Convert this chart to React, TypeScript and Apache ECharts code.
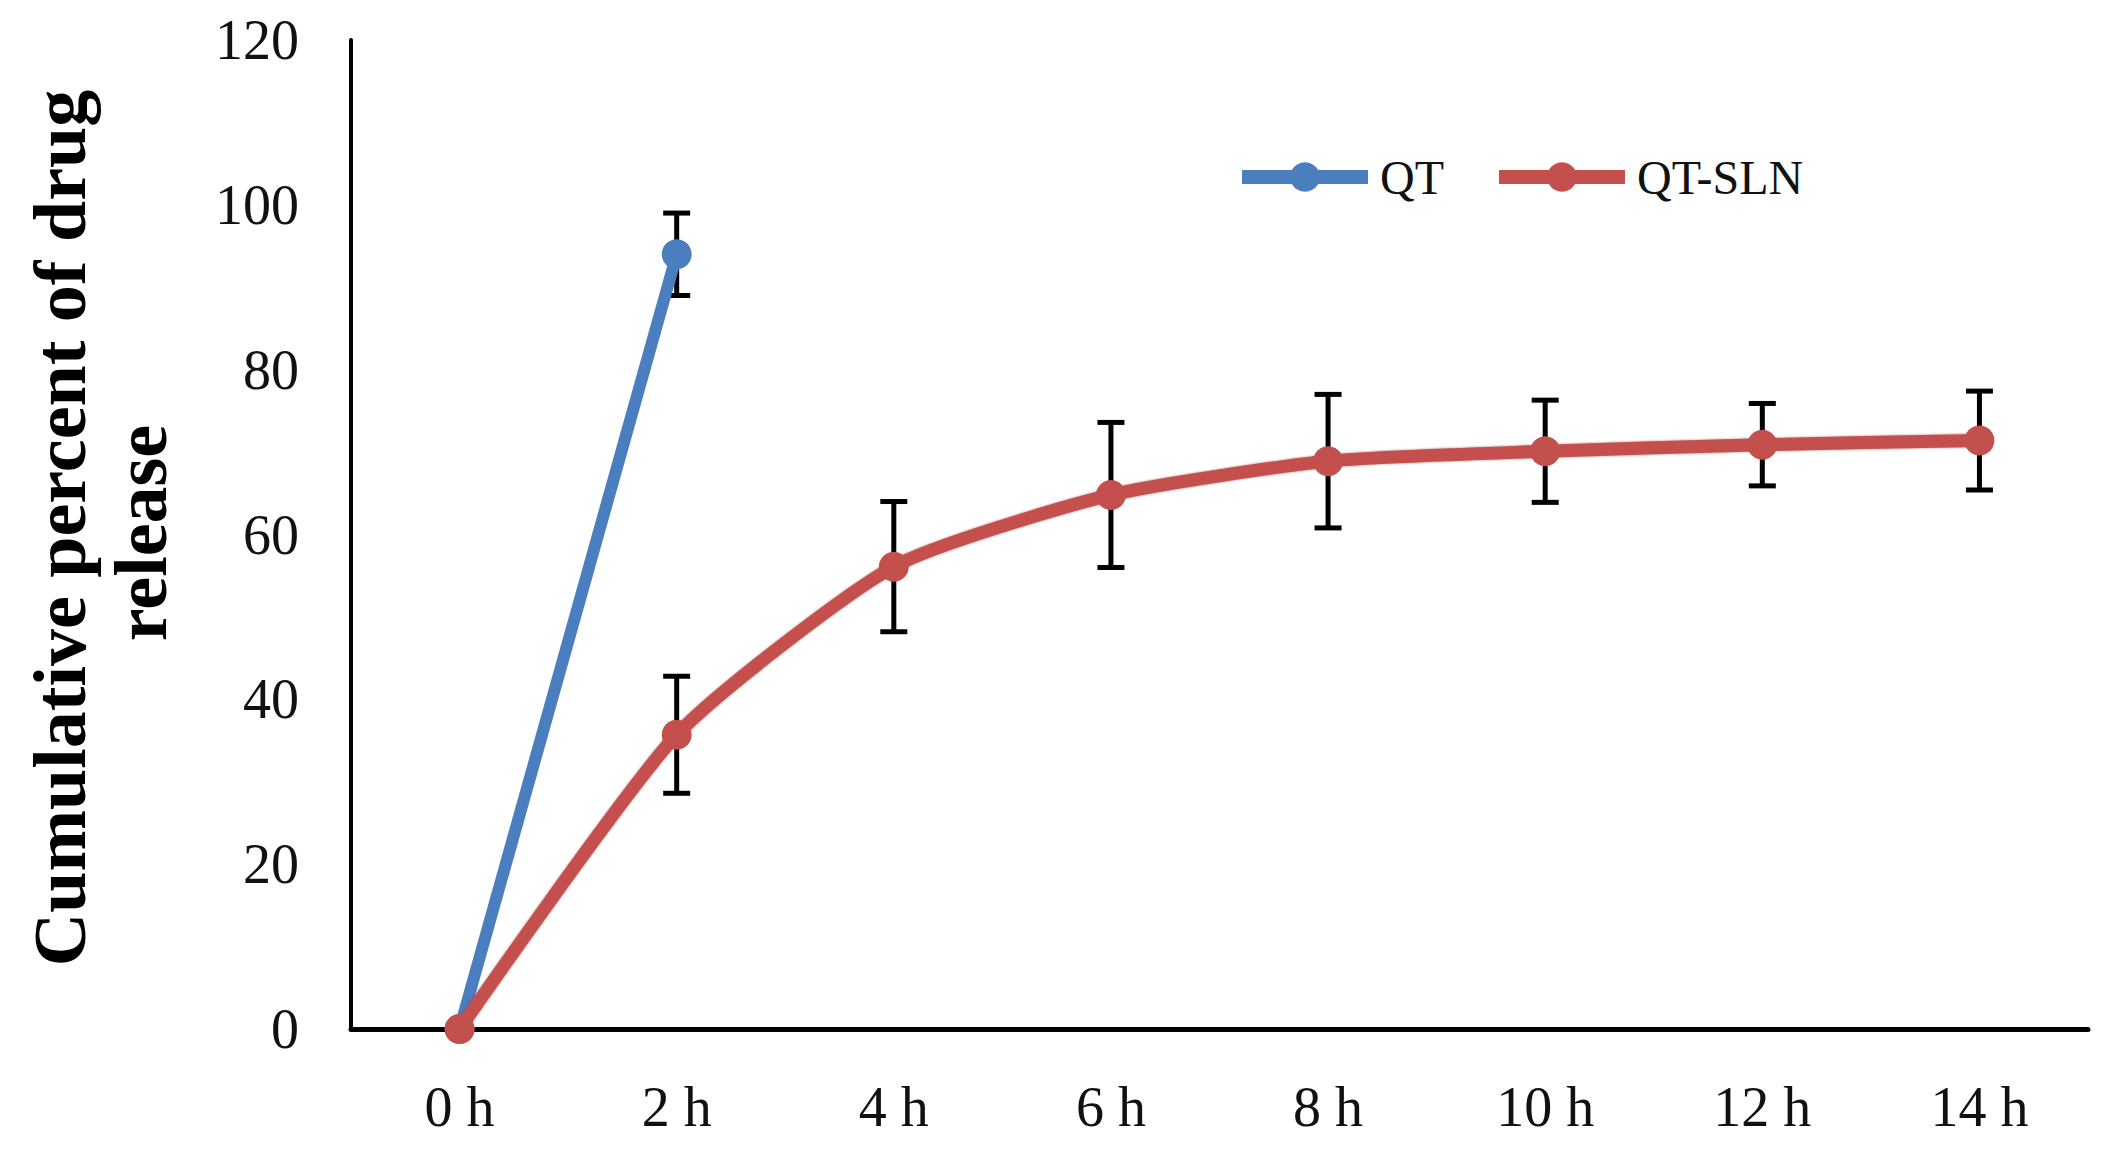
import React, { useEffect, useRef } from "react";
import * as echarts from "echarts";

const categories = ["0 h", "2 h", "4 h", "6 h", "8 h", "10 h", "12 h", "14 h"];
const qtMean: (number | null)[] = [0, 94, null, null, null, null, null, null];
const qtErr: number[] = [0, 5, 0, 0, 0, 0, 0, 0];
const slnMean: number[] = [0, 35.7, 56.1, 64.8, 68.9, 70.1, 70.9, 71.4];
const slnErr: number[] = [0, 7.1, 7.9, 8.8, 8.1, 6.2, 5.0, 6.0];
const yTitleLines = ["Cumulative percent of drug", "release"];

const FONT = "'Liberation Serif', 'Times New Roman', serif";
const BLUE = "#4A7EBF";
const RED = "#C4504D";

function errData(mean: (number | null)[], err: number[]) {
  const out: number[][] = [];
  mean.forEach((m, i) => {
    if (m !== null && err[i] > 0) out.push([i, m - err[i], m + err[i]]);
  });
  return out;
}

function renderErr(params: any, api: any) {
  const lo = api.coord([api.value(0), api.value(1)]);
  const hi = api.coord([api.value(0), api.value(2)]);
  const half = 13.5;
  const style = { stroke: "#000", lineWidth: 5 };
  return {
    type: "group",
    children: [
      { type: "line", shape: { x1: lo[0], y1: lo[1], x2: hi[0], y2: hi[1] }, style },
      { type: "line", shape: { x1: lo[0] - half, y1: lo[1], x2: lo[0] + half, y2: lo[1] }, style },
      { type: "line", shape: { x1: hi[0] - half, y1: hi[1], x2: hi[0] + half, y2: hi[1] }, style },
    ],
  };
}

export default function App() {
  const ref = useRef<HTMLDivElement>(null);
  useEffect(() => {
    if (!ref.current) return;
    const chart = echarts.init(ref.current, null, { renderer: "svg" });
    chart.setOption({
      animation: false,
      backgroundColor: "#fff",
      grid: { left: 351, right: 24, top: 40, bottom: 127, containLabel: false },
      legend: {
        data: ["QT", "QT-SLN"],
        left: 1230,
        top: 148,
        itemWidth: 126,
        itemHeight: 37,
        itemGap: 48,
        lineStyle: { width: 14 },
        textStyle: { fontFamily: FONT, fontSize: 48, color: "#111", padding: [0, 0, 0, 7] },
      },
      xAxis: {
        type: "category",
        data: categories,
        boundaryGap: true,
        axisLine: { show: true, lineStyle: { color: "#000", width: 5 } },
        axisTick: { show: false },
        axisLabel: { fontFamily: FONT, fontSize: 56, color: "#111", margin: 50 },
        splitLine: { show: false },
      },
      yAxis: {
        type: "value",
        min: 0,
        max: 120,
        interval: 20,
        axisLine: { show: true, lineStyle: { color: "#000", width: 4 } },
        axisTick: { show: false },
        axisLabel: { fontFamily: FONT, fontSize: 56, color: "#111", margin: 52 },
        splitLine: { show: false },
      },
      graphic: [
        {
          type: "text",
          x: 60,
          y: 528,
          rotation: Math.PI / 2,
          style: {
            text: yTitleLines[0],
            font: `bold 74px ${FONT}`,
            fill: "#000",
            textAlign: "center",
            textVerticalAlign: "middle",
          },
        },
        {
          type: "text",
          x: 141,
          y: 533,
          rotation: Math.PI / 2,
          style: {
            text: yTitleLines[1],
            font: `bold 74px ${FONT}`,
            fill: "#000",
            textAlign: "center",
            textVerticalAlign: "middle",
          },
        },
      ],
      series: [
        {
          name: "QT err",
          type: "custom",
          renderItem: renderErr,
          data: errData(qtMean, qtErr),
          z: 1,
          silent: true,
        },
        {
          name: "QT-SLN err",
          type: "custom",
          renderItem: renderErr,
          data: errData(slnMean, slnErr),
          z: 1,
          silent: true,
        },
        {
          name: "QT",
          type: "line",
          data: qtMean,
          smooth: 0.2,
          symbol: "circle",
          symbolSize: 30,
          lineStyle: { color: BLUE, width: 12 },
          itemStyle: { color: BLUE },
          z: 2,
        },
        {
          name: "QT-SLN",
          type: "line",
          data: slnMean,
          smooth: 0.2,
          symbol: "circle",
          symbolSize: 30,
          lineStyle: { color: RED, width: 13, shadowColor: "rgba(120,30,30,0.6)", shadowBlur: 2 },
          itemStyle: { color: RED },
          z: 3,
        },
      ],
    });
    return () => chart.dispose();
  }, []);
  return (
    <div
      ref={ref}
      style={{ position: "fixed", left: 0, top: 0, width: 2112, height: 1156, background: "#fff" }}
    />
  );
}
